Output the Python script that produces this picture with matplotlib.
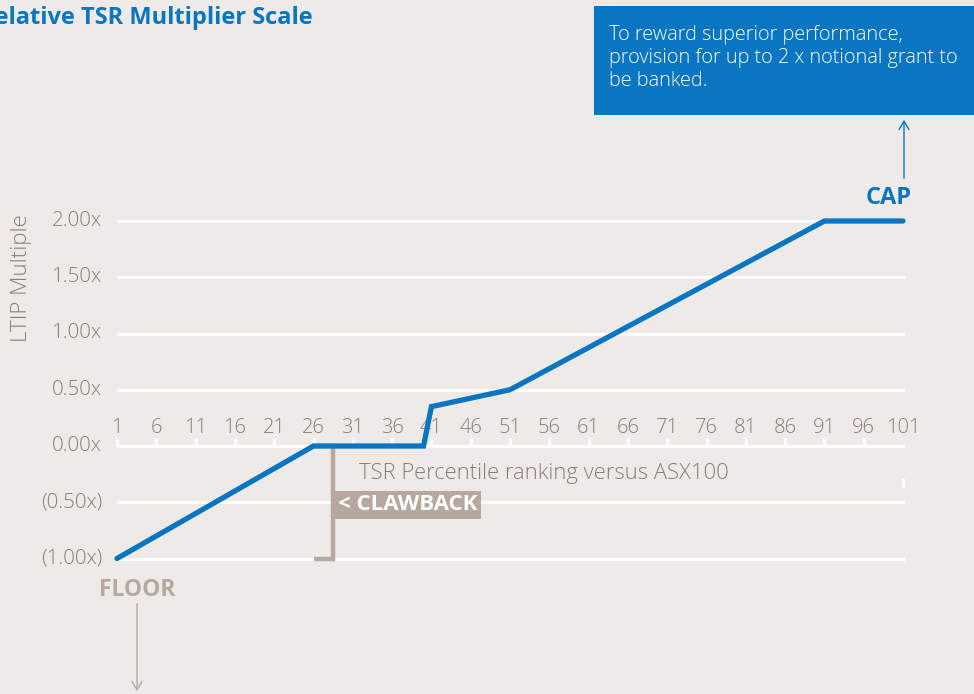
import matplotlib
matplotlib.use("Agg")
import matplotlib.pyplot as plt

# data
pct = [1, 26, 40, 41, 51, 91, 101]
mult = [-1.0, 0.0, 0.0, 0.35, 0.5, 2.0, 2.0]
x_ticks = list(range(1, 102, 5))
y_ticks = [2.0, 1.5, 1.0, 0.5, 0.0, -0.5, -1.0]
y_labels = ["2.00x", "1.50x", "1.00x", "0.50x", "0.00x", "(0.50x)", "(1.00x)"]

BG = "#eeeae7"
BLUE = "#0a75c2"
GREY = "#8c7d74"
TAUPE = "#b6a89f"

plt.rcParams["font.family"] = ["Open Sans", "DejaVu Sans"]

fig = plt.figure(figsize=(9.74, 6.94), dpi=100, facecolor=BG)
ax = fig.add_axes([0, 0, 1, 1])
ax.set_facecolor(BG)
ax.axis("off")

# pixel mapping: x=1 -> 117px, x=101 -> 903px ; y=0 -> 446px, 0.5 per 56.25px
sx = 7.86
sy = 112.5
ax.set_xlim(1 - 117 / sx, 1 + (974 - 117) / sx)
ax.set_ylim(-(694 - 446) / sy, 446 / sy)


def px(p):
    return 1 + (p - 117) / sx


def py(p):
    return (446 - p) / sy


x_end = px(905)

# gridlines
for v, lab in zip(y_ticks, y_labels):
    ax.plot([1, x_end], [v, v], color="white", lw=2.2, zorder=1, solid_capstyle="butt")
    ax.text(px(102), v, lab, ha="right", va="center", fontsize=14.8,
            color=GREY, fontweight="light")

# x ticks on the zero line
for t in x_ticks[:-1]:
    ax.plot([t, t], [0, 8 / sy], color="white", lw=2.2, zorder=1, solid_capstyle="butt")
for t in x_ticks:
    ax.text(t, py(428), str(t), ha="center", va="center", fontsize=14.5,
            color=GREY, fontweight="light")
ax.plot([101, 101], [py(480), py(486)], color="white", lw=2.2, zorder=1)

# multiplier line
ax.plot(pct, mult, color=BLUE, lw=3.8, solid_capstyle="round",
        solid_joinstyle="miter", zorder=4)

# clawback bracket
bx = px(333)
ax.plot([26, bx, bx, 26], [0, 0, -1.0, -1.0], color=TAUPE, lw=3.2,
        solid_joinstyle="miter", solid_capstyle="butt", zorder=3)
ax.text(px(338), py(505), "< CLAWBACK", ha="left", va="center", fontsize=16,
        color="white", fontweight="bold", zorder=5,
        bbox=dict(boxstyle="square,pad=0.15", fc=TAUPE, ec="none"))

ax.text(px(359), py(474), "TSR Percentile ranking versus ASX100",
        ha="left", va="center", fontsize=15.8, color=GREY, fontweight="light")

ax.text(px(22), py(278), "LTIP Multiple", rotation=90, ha="center", va="center",
        fontsize=16, color=GREY, fontweight="light")

# title (cut off at the left edge, as in the source)
fig.text(313 / 974, 1 - 18 / 694, "Relative TSR Multiplier Scale", ha="right",
         va="center", fontsize=17, color=BLUE, fontweight="bold")

# note box
fig.patches.append(plt.Rectangle((594 / 974, 1 - 115 / 694), 380 / 974, 109 / 694,
                                 transform=fig.transFigure, fc=BLUE, ec="none"))
fig.text(609 / 974, 1 - 25 / 694,
         "To reward superior performance,\nprovision for up to 2 x notional grant to\nbe banked.",
         ha="left", va="top", fontsize=14.3, color="white", fontweight="light",
         linespacing=1.2)

# CAP label and arrow
ax.text(px(889), py(198), "CAP", ha="center", va="center",
        fontsize=17, color=BLUE, fontweight="bold")
ax.annotate("", xy=(px(904), py(117)), xytext=(px(904), py(181)),
            arrowprops=dict(arrowstyle="->,head_length=0.6,head_width=0.35",
                            color=BLUE, lw=1.0))

# FLOOR label and arrow
ax.text(px(137), py(590), "FLOOR", ha="center", va="center",
        fontsize=16.5, color=TAUPE, fontweight="bold")
ax.annotate("", xy=(px(137), py(694)), xytext=(px(137), py(601)),
            arrowprops=dict(arrowstyle="->,head_length=0.6,head_width=0.35",
                            color=TAUPE, lw=1.0))

fig.savefig("out.png", dpi=100, facecolor=BG)
